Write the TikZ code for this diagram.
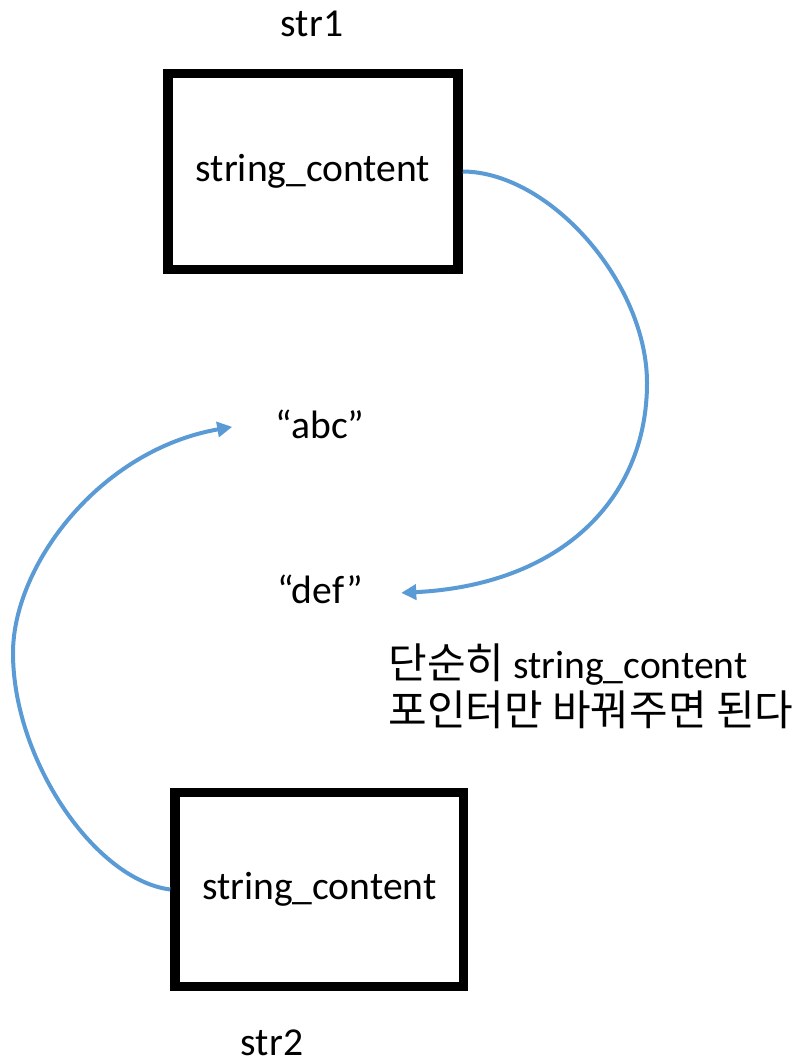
\documentclass[tikz,border=0pt]{standalone}
\usepackage{fontspec}
\setmainfont{Carlito}
\newfontfamily\kofont[Scale=1.06]{Noto Sans CJK KR}
\usetikzlibrary{arrows.meta}
\definecolor{linkblue}{HTML}{5B9BD5}
\begin{document}
\begin{tikzpicture}[x=0.5pt, y=-0.5pt,
	font=\fontsize{19.8}{24}\selectfont,
	txt/.style = {inner sep=0pt, anchor=base},
	strbox/.style = {draw, line width=4.75pt, inner sep=0pt},
	link/.style = {draw=linkblue, line width=2pt, -{Triangle[length=7.5pt, width=7.5pt]}}]
	\useasboundingbox (0,0) rectangle (801,1064);
	\node[txt] (str1) at (312,37) {str1};
	\node[strbox, minimum width=145pt, minimum height=98pt] (box1) at (313,171.5) {string\_content};
	\node[txt] (abc) at (320,438) {“abc”};
	\node[txt] (def) at (320,603) {“def”};
	\node[txt, anchor=base west] (note1) at (388,678) {{\kofont 단순히} string\_content};
	\node[txt, anchor=base west] (note2) at ([yshift=-23.5pt]note1.base west) {\kofont 포인터만 바꿔주면 된다};
	\node[strbox, minimum width=144.25pt, minimum height=97pt] (box2) at (319.25,889.5) {string\_content};
	\node[txt] (str2) at (272,1055) {str2};
	%\draw (box1.east) -- (def.east);
	\draw[link] (box1.east) .. controls (550,172) and (647,283) .. (647,383)
		.. controls (647,500) and (560,585) .. ([xshift=19pt, yshift=-2pt]def.east);
	\draw[link] (box2.west) .. controls (95,880) and (13,760) .. (13,653)
		.. controls (13,565) and (100,450) .. ([xshift=-21.5pt, yshift=-1.5pt]abc.west);
\end{tikzpicture}
\end{document}
